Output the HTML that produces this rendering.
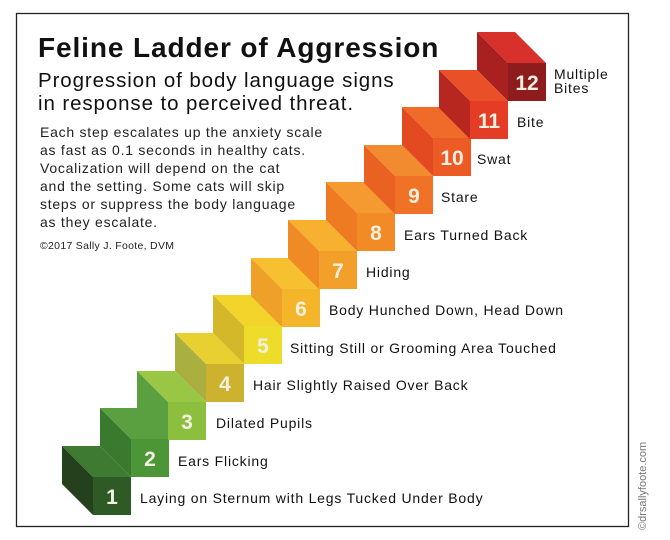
<!DOCTYPE html>
<html><head><meta charset="utf-8"><style>
html,body{margin:0;padding:0;background:#fff;}
svg{display:block;font-family:"Liberation Sans",sans-serif;}
</style></head><body>
<svg width="670" height="540" viewBox="0 0 670 540" xmlns="http://www.w3.org/2000/svg">
<rect x="0" y="0" width="670" height="540" fill="#fff"/>
<rect x="16.5" y="13.5" width="612" height="513" fill="none" stroke="#222" stroke-width="1.3"/>
<text x="38" y="57" font-size="28" font-weight="bold" fill="#111" letter-spacing="0.9">Feline Ladder of Aggression</text>
<text x="38" y="87" font-size="20.5" fill="#111" letter-spacing="0.9">Progression of body language signs</text>
<text x="38" y="110" font-size="20.5" fill="#111" letter-spacing="0.9">in response to perceived threat.</text>
<g font-size="14" fill="#222" letter-spacing="0.75">
<text x="40" y="137">Each step escalates up the anxiety scale</text>
<text x="40" y="155">as fast as 0.1 seconds in healthy cats.</text>
<text x="40" y="173">Vocalization will depend on the cat</text>
<text x="40" y="191">and the setting. Some cats will skip</text>
<text x="40" y="209">steps or suppress the body language</text>
<text x="40" y="227">as they escalate.</text>
</g>
<text x="40" y="249" font-size="10.5" fill="#222" letter-spacing="0.3">©2017 Sally J. Foote, DVM</text>
<text transform="translate(646,530) rotate(-90)" font-size="11" fill="#777">©drsallyfoote.com</text>

<g font-size="21" font-weight="bold" fill="#f4f0e0" text-anchor="middle">
<g transform="translate(93,477)"><polygon points="0,0 38,0 7,-31 -31,-31" fill="#3f7a33"/><polygon points="-31,-31 0,0 0,38 -31,7" fill="#24401c"/><rect width="38" height="38" fill="#2e5a26"/><text x="19" y="27">1</text></g>
<g transform="translate(131,439)"><polygon points="0,0 38,0 7,-31 -31,-31" fill="#5aa040"/><polygon points="-31,-31 0,0 0,38 -31,7" fill="#3a7a2e"/><rect width="38" height="38" fill="#4c9638"/><text x="19" y="27">2</text></g>
<g transform="translate(168,402)"><polygon points="0,0 38,0 7,-31 -31,-31" fill="#9ac646"/><polygon points="-31,-31 0,0 0,38 -31,7" fill="#5aa040"/><rect width="38" height="38" fill="#8cbf3e"/><text x="19" y="27">3</text></g>
<g transform="translate(206,364)"><polygon points="0,0 38,0 7,-31 -31,-31" fill="#e8d030"/><polygon points="-31,-31 0,0 0,38 -31,7" fill="#aab040"/><rect width="38" height="38" fill="#cdb230"/><text x="19" y="27">4</text></g>
<g transform="translate(244,326)"><polygon points="0,0 38,0 7,-31 -31,-31" fill="#f2d42a"/><polygon points="-31,-31 0,0 0,38 -31,7" fill="#d4b82a"/><rect width="38" height="38" fill="#eedc2a"/><text x="19" y="27">5</text></g>
<g transform="translate(282,289)"><polygon points="0,0 38,0 7,-31 -31,-31" fill="#f6c030"/><polygon points="-31,-31 0,0 0,38 -31,7" fill="#eea028"/><rect width="38" height="38" fill="#f5b52a"/><text x="19" y="27">6</text></g>
<g transform="translate(319,251)"><polygon points="0,0 38,0 7,-31 -31,-31" fill="#f7b030"/><polygon points="-31,-31 0,0 0,38 -31,7" fill="#ef8a25"/><rect width="38" height="38" fill="#f3a02a"/><text x="19" y="27">7</text></g>
<g transform="translate(357,213)"><polygon points="0,0 38,0 7,-31 -31,-31" fill="#f59a30"/><polygon points="-31,-31 0,0 0,38 -31,7" fill="#ee7a22"/><rect width="38" height="38" fill="#f28a25"/><text x="19" y="27">8</text></g>
<g transform="translate(395,176)"><polygon points="0,0 38,0 7,-31 -31,-31" fill="#f28a30"/><polygon points="-31,-31 0,0 0,38 -31,7" fill="#ea6222"/><rect width="38" height="38" fill="#ef7226"/><text x="19" y="27">9</text></g>
<g transform="translate(433,138)"><polygon points="0,0 38,0 7,-31 -31,-31" fill="#f06a2a"/><polygon points="-31,-31 0,0 0,38 -31,7" fill="#e34a22"/><rect width="38" height="38" fill="#ec5a25"/><text x="19" y="27">10</text></g>
<g transform="translate(470,101)"><polygon points="0,0 38,0 7,-31 -31,-31" fill="#ea5028"/><polygon points="-31,-31 0,0 0,38 -31,7" fill="#b82620"/><rect width="38" height="38" fill="#e43c25"/><text x="19" y="27">11</text></g>
<g transform="translate(508,63)"><polygon points="0,0 38,0 7,-31 -31,-31" fill="#d8302a"/><polygon points="-31,-31 0,0 0,38 -31,7" fill="#a82020"/><rect width="38" height="38" fill="#8e1c1c"/><text x="19" y="27">12</text></g>
</g>

<g font-size="14" fill="#111" letter-spacing="0.8">
<text x="140" y="503">Laying on Sternum with Legs Tucked Under Body</text>
<text x="178" y="466">Ears Flicking</text>
<text x="216" y="428">Dilated Pupils</text>
<text x="253" y="390">Hair Slightly Raised Over Back</text>
<text x="290" y="353">Sitting Still or Grooming Area Touched</text>
<text x="329" y="315">Body Hunched Down, Head Down</text>
<text x="366" y="277">Hiding</text>
<text x="404" y="240">Ears Turned Back</text>
<text x="441" y="202">Stare</text>
<text x="477" y="164">Swat</text>
<text x="517" y="127">Bite</text>
<text x="554" y="79">Multiple</text>
<text x="554" y="93">Bites</text>
</g>
</svg>
</body></html>
